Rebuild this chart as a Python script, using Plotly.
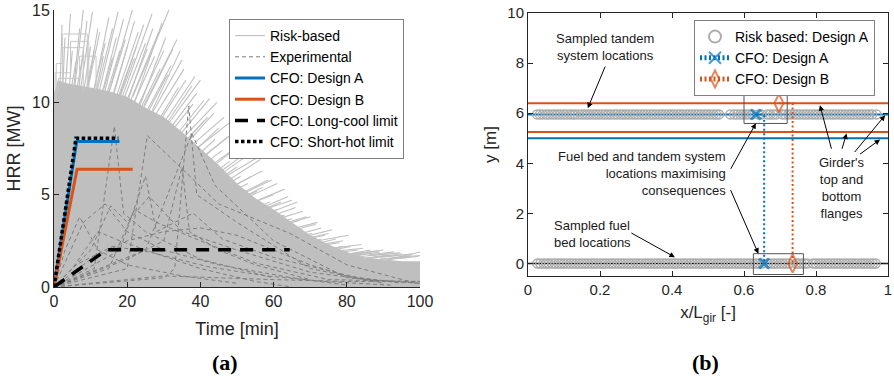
import plotly.graph_objects as go

# ---------------- (a) HRR curves ----------------
# dense body of the risk-based HRR curves (outline)
mass_t = [0, 0, 1, 4, 10, 15, 20, 25, 30, 35, 40, 45, 50, 55, 60, 65, 70, 75, 80, 85, 90, 95, 100, 100]
mass_h = [0, 10.5, 11.2, 11.0, 10.8, 10.6, 10.3, 9.7, 9.2, 8.4, 7.5, 6.6, 5.6, 4.8, 4.2, 3.5, 2.8, 2.3, 1.9, 1.6, 1.5, 1.4, 1.4, 0]

# individual risk-based curve tails sticking out of the body (base -> tip)
spk_t0 = [2, 3.5, 5, 6.3, 7.5, 8.5, 10.5, 10.5, 12.5, 13.5, 15.5, 14.5, 16.5, 17.5, 18.5, 21, 20.5, 22.5, 21.5, 25,
          24.5, 26.5, 28, 29.5, 31, 32.5, 34.5, 35.5, 37.5, 39.5, 42, 44, 45.5, 47.5, 47, 51, 51.5, 53.5, 56, 57,
          59, 61, 62, 64, 67, 68, 71, 72, 76, 76, 79, 82, 85, 86, 89, 92,
          4.5, 6, 8.5, 10.5, 13, 14, 17.5, 19.5, 23.5, 25.5, 28.5, 32, 35, 38, 40, 42.5, 46, 48, 50.5, 54,
          56.5, 58.5, 60, 63.5, 65.5, 68, 72, 73, 77, 80, 81, 84, 86, 89, 91, 93,
          1.5, 3, 5.5, 7, 9, 11.5, 12, 14.5, 16, 17, 18.5, 20, 21.5, 23, 24, 26, 27, 29, 30, 33,
          34, 36, 37, 39, 41, 43, 44.5, 46.5, 49, 50, 52, 54.5, 56, 58, 60, 62, 64, 66, 69, 70,
          74, 75, 78, 80, 83, 84, 87, 90]
spk_h0 = [9, 9, 10, 10, 9.8, 10, 9.7, 10.2, 10, 10.3, 10, 10.2, 10, 10.1, 10.2, 9.6, 9.9, 9.6, 10.3, 9.4,
          9.8, 9.3, 8.7, 8.5, 8.4, 8, 7.6, 7.6, 7.2, 6.8, 6.3, 5.7, 6.1, 5.3, 5.7, 4.8, 5.1, 4.5, 4.1, 4.3,
          3.8, 3.3, 3.4, 3.1, 2.5, 2.7, 2.2, 2.5, 1.7, 2.1, 1.7, 1.8, 1.55, 1.7, 1.5, 1.5,
          10.5, 10.5, 10.4, 10.4, 10.3, 10.2, 10, 9.9, 9.6, 9.4, 9, 8.4, 7.7, 6.9, 6.5, 6.0, 5.4, 5.1, 4.7, 4.2,
          3.9, 3.6, 3.4, 2.9, 2.7, 2.4, 2.0, 2.0, 1.85, 1.7, 1.8, 1.65, 1.75, 1.6, 1.65, 1.6,
          10, 10.5, 10.5, 10.4, 10.5, 10.4, 10.3, 10.2, 10.2, 10, 9.9, 10, 9.7, 9.6, 9.5, 9.2, 9.1, 8.6, 8.5, 7.9,
          7.8, 7.4, 7.2, 6.8, 6.3, 5.9, 5.7, 5.2, 4.8, 4.6, 4.4, 4.0, 3.8, 3.5, 3.2, 2.9, 2.7, 2.5, 2.2, 2.2,
          1.9, 1.9, 1.7, 1.6, 1.5, 1.5, 1.45, 1.4]
spk_t1 = [3, 5, 7, 9, 10, 12, 13.5, 15, 17, 19, 20, 21.4, 23, 24.5, 26.8, 27.5, 28.6, 30, 31.4, 32,
          33.6, 35, 36, 37.7, 39, 40.9, 42, 43.6, 45, 47.3, 49, 50, 52.7, 54, 56.4, 57, 58.5, 60, 62, 64,
          66, 67, 69, 72, 74, 76, 78, 80.5, 82, 84, 87, 90, 92, 94.5, 97, 99.5,
          6, 8, 11, 14, 16, 18, 22, 25.5, 29, 31, 34, 38, 41, 44, 46, 48, 51, 53, 55.5, 59,
          61, 63, 65, 68, 70.5, 73, 77, 79, 83, 86, 88.5, 91, 93, 96, 98, 100,
          2.2, 4.5, 8, 10.5, 12.5, 16, 17.5, 19.5, 22, 22.5, 25, 27, 29.5, 30.5, 32.5, 34.5, 35.5, 38.5, 40, 42.5,
          44.5, 46.5, 48, 50, 51.5, 53.5, 55.5, 57, 59.5, 61, 63, 65, 66.5, 68, 70, 71.5, 73, 75, 77, 79,
          81, 84.5, 86.5, 89, 91.5, 95, 97.5, 100]
spk_h1 = [13.5, 12.8, 14, 14.4, 13, 14, 12.5, 14.6, 13.5, 14.5, 13, 15, 13.8, 14.2, 14.8, 12.5, 13.8, 12.8, 15, 12,
          13.4, 12.3, 11.2, 10.9, 10.5, 10.1, 9.2, 9.4, 8.6, 8.1, 7.4, 6.5, 7.1, 6.0, 6.9, 5.4, 5.8, 5.0, 4.6, 4.9,
          4.3, 3.6, 3.8, 3.5, 2.8, 3.1, 2.4, 2.8, 1.8, 2.3, 1.9, 2.0, 1.7, 1.85, 1.6, 1.65,
          12.2, 12.6, 12.8, 13.2, 12.4, 12.8, 12.4, 12.9, 11.8, 11.5, 10.8, 9.9, 9.0, 8.0, 7.4, 6.8, 6.0, 5.6, 5.2, 4.6,
          4.2, 3.9, 3.7, 3.1, 2.9, 2.6, 2.1, 2.2, 2.0, 1.8, 1.95, 1.8, 1.9, 1.75, 1.8, 1.7,
          14.2, 14.8, 15, 14.9, 13.8, 14, 14.9, 13.4, 14.4, 13, 13.2, 14, 14.3, 13.5, 12.9, 12.8, 11.8, 11.4, 11.2, 10.2,
          10, 9.2, 8.9, 8.5, 7.8, 7.4, 7.0, 6.3, 5.8, 5.6, 5.3, 4.7, 4.6, 4.1, 3.8, 3.4, 3.2, 2.9, 2.6, 2.5,
          2.2, 2.1, 2.0, 1.9, 1.75, 1.8, 1.7, 1.9]

# step-like risk-based curves near the origin
stair_t = [0.6, 0.6, 2.4, 2.4, 8.0, 8.0, None, 0.3, 0.3, 4.5, 4.5, 9.5, 9.5, None,
           2.3, 2.3, 9.1, 9.1, None, 1.2, 1.2, 7, 7, 11.5, 11.5]
stair_h = [10, 12.1, 12.1, 12.96, 12.96, 10.5, None, 10, 11.6, 11.6, 13.3, 13.3, 10.8, None,
           11.0, 13.7, 13.7, 11.0, None, 10.5, 11.3, 11.3, 12.5, 12.5, 10.6]

# experimental HRR curves (separated by None)
exp_t = [0, 11, 16.5, 19, 25, 40, 60, None,
         0, 20, 25.5, 45, 64.5, 80, 99, None,
         0, 30, 33, 36.8, 39, 50, 70, 90, None,
         0, 25, 37.7, 44, 60, 80, 100, None,
         0, 10, 15.5, 20, 26, 35, 50, 70, 90, None,
         0, 8, 14, 20, 30, 45, 65, 80, None,
         0, 10, 20, 30, 40, 50, 60, 70, 80, 95, None,
         0, 5, 12, 18, 28, 40, 55, 65, None,
         0, 20, 30, 35, 37, 45, 55, 70, None,
         0, 15, 22, 28, 40, 55, 75, 100, None,
         0, 18, 25, 28, 38, 46, 60, 85, 100, None,
         0, 3, 7, 12, 20, 35, 50, None,
         0, 30, 60, 80, 100, None,
         0, 6, 16, 26, 42, 58, 74, 92]
exp_h = [0, 1, 8.7, 4, 3, 1.5, 0.5, None,
         0, 1, 8.2, 4.5, 2.9, 1.2, 0.2, None,
         0, 0.5, 1, 9.8, 5, 3.5, 1, 0.2, None,
         0, 2, 8.3, 5.5, 2.5, 0.5, 0.2, None,
         0, 2, 4.4, 3.5, 4.9, 3, 2, 0.8, 0.3, None,
         0, 3.5, 4.5, 3, 2, 1.2, 0.5, 0.1, None,
         0, 1.5, 2.5, 3, 3.2, 2.8, 2, 1.2, 0.6, 0.2, None,
         0, 1, 3, 2.5, 1.8, 1, 0.3, 0, None,
         0, 1.5, 2.5, 6.5, 3, 2, 1.2, 0.4, None,
         0, 1, 4.2, 3.5, 2.5, 1.3, 0.4, 0.3, None,
         0, 2, 6, 3, 4, 2.6, 1.6, 0.4, 0.2, None,
         0, 2, 3.8, 2, 1.2, 0.6, 0.2, None,
         0, 0.6, 0.4, 0.3, 0.3, None,
         0, 1.2, 2.2, 1.9, 1.1, 0.6, 0.3, 0.1]

# CFO curves
cfoA_t = [0, 6.2, 17.9]
cfoA_h = [0, 7.88, 7.88]
cfoB_t = [0, 6.3, 21.5]
cfoB_h = [0, 6.38, 6.38]
long_t = [0, 14.4, 64.4]
long_h = [0, 2.02, 2.02]
short_t = [0, 6.0, 17.6]
short_h = [0, 8.05, 8.05]

# ---------------- (b) locations ----------------
tandem_x = [0.025, 0.033, 0.041, 0.05, 0.057, 0.066, 0.074, 0.082, 0.09, 0.099, 0.107, 0.116, 0.124, 0.131,
            0.14, 0.149, 0.157, 0.165, 0.173, 0.182, 0.19, 0.198, 0.207, 0.215, 0.223, 0.231, 0.24, 0.248,
            0.257, 0.265, 0.273, 0.281, 0.29, 0.298, 0.306, 0.315, 0.323, 0.331, 0.34, 0.348, 0.356, 0.365,
            0.373, 0.381, 0.39, 0.398, 0.406, 0.415, 0.423, 0.431, 0.44, 0.448, 0.456, 0.465, 0.473, 0.481,
            0.49, 0.498, 0.506, 0.515, 0.523, 0.531, 0.562, 0.573, 0.581, 0.59, 0.598, 0.606, 0.615,
            0.623, 0.64, 0.648, 0.665, 0.673, 0.681, 0.69, 0.706, 0.715, 0.723, 0.731, 0.74, 0.748,
            0.756, 0.765, 0.773, 0.781, 0.79, 0.798, 0.806, 0.815, 0.823, 0.831, 0.84, 0.848, 0.856, 0.865,
            0.873, 0.881, 0.89, 0.898, 0.906, 0.915, 0.923, 0.931, 0.94, 0.948, 0.956, 0.968]
fuel_x = [0.026, 0.034, 0.043, 0.051, 0.058, 0.067, 0.075, 0.084, 0.092, 0.1, 0.108, 0.117, 0.125, 0.133,
          0.142, 0.15, 0.158, 0.166, 0.175, 0.183, 0.191, 0.2, 0.208, 0.216, 0.225, 0.233, 0.241, 0.25,
          0.258, 0.266, 0.275, 0.283, 0.291, 0.3, 0.308, 0.316, 0.325, 0.333, 0.341, 0.35, 0.358, 0.366,
          0.375, 0.383, 0.391, 0.4, 0.408, 0.416, 0.425, 0.433, 0.441, 0.45, 0.458, 0.466, 0.475, 0.483,
          0.491, 0.5, 0.508, 0.516, 0.525, 0.533, 0.541, 0.55, 0.558, 0.566, 0.575, 0.583, 0.591, 0.6,
          0.608, 0.616, 0.625, 0.633, 0.641, 0.65, 0.666, 0.675, 0.683, 0.691, 0.7, 0.708, 0.716, 0.725,
          0.745, 0.752, 0.76, 0.768, 0.776, 0.792, 0.8, 0.808, 0.816, 0.825, 0.833, 0.841, 0.85,
          0.858, 0.866, 0.875, 0.883, 0.891, 0.9, 0.908, 0.916, 0.925, 0.933, 0.941, 0.95, 0.958, 0.966]
tandem_y = 5.95
fuel_y = 0.0

flangeA_y = [5.95, 5.0]
flangeB_y = [6.4, 5.25]

cfoA_x = [0.633, 0.656, 0.656]
cfoA_y = [5.95, 5.95, 0.0]
cfoB_x = [0.697, 0.735, 0.735]
cfoB_y = [6.4, 6.4, 0.0]

BLUE = "#0072BD"
ORANGE = "#D95319"
FONT = "Liberation Sans, Arial, sans-serif"
AX = "#262626"

fig = go.Figure()

# ----- panel (a) traces -----
fig.add_trace(go.Scatter(x=mass_t, y=mass_h, mode="lines", fill="toself", fillcolor="rgb(191,191,191)",
                         line=dict(width=0, color="rgb(191,191,191)"), showlegend=False, hoverinfo="skip",
                         xaxis="x", yaxis="y"))
sx, sy = [], []
for a, b, c, d in zip(spk_t0, spk_h0, spk_t1, spk_h1):
    sx += [a, c, None]
    sy += [b, d, None]
fig.add_trace(go.Scatter(x=sx, y=sy, mode="lines", line=dict(color="rgb(192,192,192)", width=1.1),
                         name="Risk-based", legend="legend", xaxis="x", yaxis="y"))
fig.add_trace(go.Scatter(x=stair_t, y=stair_h, mode="lines", line=dict(color="rgb(200,200,200)", width=1),
                         showlegend=False, xaxis="x", yaxis="y"))
fig.add_trace(go.Scatter(x=exp_t, y=exp_h, mode="lines",
                         line=dict(color="rgb(125,125,125)", width=1, dash="4px,3px"),
                         name="Experimental", legend="legend", xaxis="x", yaxis="y"))
fig.add_trace(go.Scatter(x=cfoA_t, y=cfoA_h, mode="lines", line=dict(color=BLUE, width=3),
                         name="CFO: Design A", legend="legend", xaxis="x", yaxis="y"))
fig.add_trace(go.Scatter(x=cfoB_t, y=cfoB_h, mode="lines", line=dict(color=ORANGE, width=3),
                         name="CFO: Design B", legend="legend", xaxis="x", yaxis="y"))
fig.add_trace(go.Scatter(x=long_t, y=long_h, mode="lines", line=dict(color="black", width=3.5, dash="13px,9px"),
                         name="CFO: Long-cool limit", legend="legend", xaxis="x", yaxis="y"))
fig.add_trace(go.Scatter(x=short_t, y=short_h, mode="lines", line=dict(color="black", width=3.5, dash="3.5px,2.5px"),
                         name="CFO: Short-hot limit", legend="legend", xaxis="x", yaxis="y"))

# ----- panel (b) traces -----
for yv in flangeA_y:
    fig.add_trace(go.Scatter(x=[0, 1], y=[yv, yv], mode="lines", line=dict(color=BLUE, width=2),
                             showlegend=False, xaxis="x2", yaxis="y2"))
for yv in flangeB_y:
    fig.add_trace(go.Scatter(x=[0, 1], y=[yv, yv], mode="lines", line=dict(color=ORANGE, width=2),
                             showlegend=False, xaxis="x2", yaxis="y2"))
fig.add_trace(go.Scatter(x=[0, 1], y=[fuel_y, fuel_y], mode="lines", line=dict(color="black", width=1.5),
                         showlegend=False, xaxis="x2", yaxis="y2"))
fig.add_trace(go.Scatter(x=tandem_x + fuel_x, y=[tandem_y] * len(tandem_x) + [fuel_y] * len(fuel_x),
                         mode="markers",
                         marker=dict(symbol="circle-open", size=9, color="rgb(172,172,172)", line=dict(width=1.4)),
                         name="Risk based: Design A", legend="legend2", xaxis="x2", yaxis="y2"))
fig.add_trace(go.Scatter(x=cfoA_x, y=cfoA_y, mode="lines+markers",
                         line=dict(color=BLUE, width=2, dash="2px,2.5px"),
                         marker=dict(symbol="x-thin-open", size=[10, 0, 10], color=BLUE, line=dict(width=3, color=BLUE)),
                         name="CFO: Design A", legend="legend2", xaxis="x2", yaxis="y2"))
fig.add_trace(go.Scatter(x=cfoB_x, y=cfoB_y, mode="lines+markers",
                         line=dict(color=ORANGE, width=2, dash="2px,2.5px"),
                         marker=dict(symbol="diamond-tall-open", size=[13, 0, 13], color=ORANGE,
                                     line=dict(width=2, color=ORANGE)),
                         name="CFO: Design B", legend="legend2", xaxis="x2", yaxis="y2"))

# boxes around design locations
boxes = [(0.6, 0.72, 5.59, 6.81), (0.626, 0.765, -0.44, 0.39)]
shapes = []
for x0, x1, y0, y1 in boxes:
    shapes.append(dict(type="rect", xref="x2", yref="y2", x0=x0, x1=x1, y0=y0, y1=y1,
                       line=dict(color="#555555", width=1)))

# annotations (b)
ann_font = dict(family=FONT, size=13, color="#1a1a1a")
annotations = [
    dict(x=0.213, y=8.65, xref="x2", yref="y2", text="Sampled tandem<br>system locations",
         showarrow=False, font=ann_font, align="center"),
    dict(x=0.555, y=3.61, xref="x2", yref="y2", xanchor="right",
         text="Fuel bed and tandem system<br>locations maximising<br>consequences",
         showarrow=False, font=ann_font, align="right"),
    dict(x=0.067, y=1.16, xref="x2", yref="y2", xanchor="left", text="Sampled fuel<br>bed locations",
         showarrow=False, font=ann_font, align="left"),
    dict(x=0.871, y=3.02, xref="x2", yref="y2", text="Girder's<br>top and<br>bottom<br>flanges",
         showarrow=False, font=ann_font, align="center"),
]
arrows = [
    ((0.216, 7.92), (0.166, 6.2)),
    ((0.561, 3.72), (0.633, 5.6)),
    ((0.561, 2.99), (0.64, 0.39)),
    ((0.283, 1.25), (0.408, 0.25)),
    ((0.844, 4.52), (0.811, 6.32)),
    ((0.871, 4.52), (0.885, 5.19)),
    ((0.904, 4.39), (0.992, 5.92)),
    ((0.918, 4.32), (0.978, 4.95)),
]
for (tx, ty), (hx, hy) in arrows:
    annotations.append(dict(x=hx, y=hy, ax=tx, ay=ty, xref="x2", yref="y2", axref="x2", ayref="y2",
                            text="", showarrow=True, arrowhead=2, arrowsize=1.1, arrowwidth=1,
                            arrowcolor="black"))
# panel labels
annotations.append(dict(x=225 / 894, y=1 - 362 / 378, xref="paper", yref="paper", text="<b>(a)</b>",
                        xanchor="center", yanchor="middle", showarrow=False,
                        font=dict(family="Liberation Serif, serif", size=22, color="black")))
annotations.append(dict(x=705 / 894, y=1 - 362 / 378, xref="paper", yref="paper", text="<b>(b)</b>",
                        xanchor="center", yanchor="middle", showarrow=False,
                        font=dict(family="Liberation Serif, serif", size=22, color="black")))

axis_common = dict(showgrid=False, zeroline=False, showline=True, linecolor=AX, linewidth=1,
                   ticks="inside", ticklen=5, tickcolor=AX, tickwidth=1, automargin=False)

fig.update_layout(
    template="none",
    width=894, height=378,
    margin=dict(l=0, r=0, t=0, b=0, pad=0),
    paper_bgcolor="white", plot_bgcolor="white",
    font=dict(family=FONT, color=AX),
    showlegend=True,
    xaxis=dict(domain=[54 / 894, 420 / 894], range=[0, 100], tickvals=[0, 20, 40, 60, 80, 100],
               tickfont=dict(size=16), title=dict(text="Time [min]", font=dict(size=18), standoff=13),
               anchor="y", **axis_common),
    yaxis=dict(domain=[1 - 287 / 378, 1 - 10 / 378], range=[0, 15], tickvals=[0, 5, 10, 15],
               tickfont=dict(size=16), title=dict(text="HRR [MW]", font=dict(size=18), standoff=6),
               anchor="x", **axis_common),
    xaxis2=dict(domain=[528 / 894, 888 / 894], range=[0, 1], tickvals=[0, 0.2, 0.4, 0.6, 0.8, 1],
                ticktext=["0", "0.2", "0.4", "0.6", "0.8", "1"],
                tickfont=dict(size=15), title=dict(text="x/L<sub>gir</sub> [-]", font=dict(size=17), standoff=9),
                anchor="y2", mirror="ticks", **axis_common),
    yaxis2=dict(domain=[1 - 276 / 378, 1 - 13 / 378], range=[-0.5, 10], tickvals=[0, 2, 4, 6, 8, 10],
                tickfont=dict(size=15), title=dict(text="y [m]", font=dict(size=17), standoff=6),
                anchor="x2", mirror="ticks", **axis_common),
    legend=dict(x=229 / 894, y=1 - 19 / 378, xanchor="left", yanchor="top", bgcolor="white",
                bordercolor="#808080", borderwidth=1, font=dict(size=14, color="black"),
                tracegroupgap=0, itemwidth=30),
    legend2=dict(x=694 / 894, y=1 - 20 / 378, xanchor="left", yanchor="top", bgcolor="white",
                 bordercolor="#808080", borderwidth=1, font=dict(size=14, color="black"),
                 itemsizing="constant", tracegroupgap=0),
    shapes=shapes,
    annotations=annotations,
)

fig.write_html("out.html")
